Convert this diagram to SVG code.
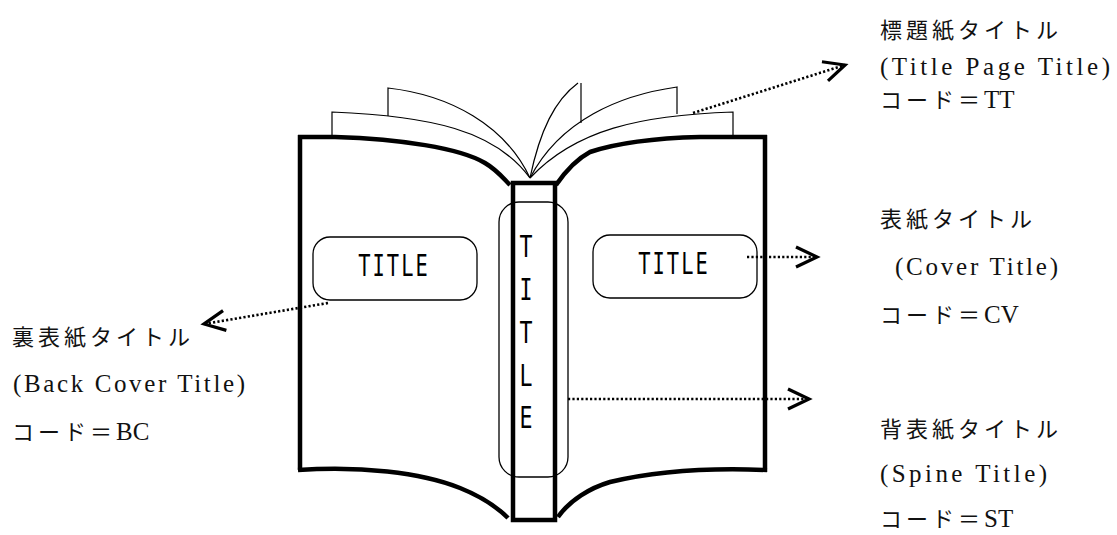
<svg xmlns="http://www.w3.org/2000/svg" width="1117" height="535" viewBox="0 0 1117 535">
<style>
.cover{fill:none;stroke:#000;stroke-width:4.5;stroke-linecap:butt;stroke-linejoin:miter}
.page{fill:none;stroke:#000;stroke-width:1.2}
.box{fill:none;stroke:#000;stroke-width:1.3}
.big{font-family:"DejaVu Sans Mono",monospace;font-size:30px;fill:#000;text-anchor:middle}
.hz{letter-spacing:3px}
.jp{font-family:"Noto Sans CJK JP",sans-serif;font-size:22px;letter-spacing:4px;fill:#111}
.en{font-family:"Liberation Serif","Noto Sans CJK JP",serif;font-size:25px;letter-spacing:0;fill:#111}
.dot{fill:none;stroke:#000;stroke-width:2.6;stroke-dasharray:2.2 2.2}
</style>
<defs>
<marker id="arr" markerUnits="userSpaceOnUse" viewBox="-26 -14 30 28" refX="0" refY="0" markerWidth="30" markerHeight="28" orient="auto" overflow="visible">
<path d="M-21,-10 L0,0 L-21,10" fill="none" stroke="#000" stroke-width="3.2" stroke-dasharray="none"/>
</marker>
</defs>
<rect width="1117" height="535" fill="#fff"/>
<g id="book">
<g id="pages">
<path class="page" d="M332,137 L332,112 C430,116 495,130 530,178"/>
<path class="page" d="M388,116 L388,88 C450,95 505,125 530,178"/>
<path class="page" d="M530,178 C540,130 555,100 578,83"/>
<path class="page" d="M581,83 L581,123"/>
<path class="page" d="M677,114 L677,87 C620,95 560,120 530,178"/>
<path class="page" d="M733,137 L733,112 C640,115 575,130 530,178"/>
</g>
<g id="left-cover">
<path class="cover" d="M300,470 L300,135 M298,137 L335,137 C400,139 460,148 485,163 C497,170 503,178 510,185"/>
<path class="cover" d="M298,470 C360,466 420,472 460,488 C485,498 500,510 508,518"/>
</g>
<g id="right-cover">
<path class="cover" d="M556,185 C565,172 575,160 590,152 C620,142 660,138 700,137 L767,137 M765,135 L765,472"/>
<path class="cover" d="M558,517 C570,500 590,488 610,482 C660,470 720,468 767,470"/>
</g>
<g id="spine">
<rect class="cover" x="513" y="183" width="42" height="337" stroke-width="4"/>
</g>
</g>
<g id="back-cover-title">
<rect class="box" x="313" y="237" width="164" height="63" rx="17"/>
<g transform="translate(394,276) scale(0.68,1)"><text class="big hz" x="0" y="0">TITLE</text></g>
</g>
<g id="cover-title">
<rect class="box" x="593" y="235" width="164" height="63" rx="17"/>
<g transform="translate(674,274) scale(0.68,1)"><text class="big hz" x="0" y="0">TITLE</text></g>
</g>
<g id="spine-title">
<rect class="box" x="499" y="202" width="69" height="275" rx="20"/>
<g transform="translate(526,0) scale(0.72,1)">
<text class="big" x="0" y="257">T</text>
<text class="big" x="0" y="300">I</text>
<text class="big" x="0" y="343">T</text>
<text class="big" x="0" y="386">L</text>
<text class="big" x="0" y="428">E</text>
</g>
</g>
<g id="connectors">
<path class="dot" d="M693,113 L845,65" marker-end="url(#arr)"/>
<path class="dot" d="M747,257 L817,257" marker-end="url(#arr)"/>
<path class="dot" d="M568,399 L809,399" marker-end="url(#arr)"/>
<path class="dot" d="M328,303 L204,324" marker-end="url(#arr)"/>
</g>
<g id="label-tt">
<text class="jp" x="880" y="38">標題紙タイトル</text>
<text class="en" x="880" y="75" textLength="230">(Title Page Title)</text>
<text class="jp" x="880" y="108">コード＝<tspan class="en">TT</tspan></text>
</g>
<g id="label-cv">
<text class="jp" x="880" y="227">表紙タイトル</text>
<text class="en" x="895" y="275" textLength="163">(Cover Title)</text>
<text class="jp" x="880" y="323">コード＝<tspan class="en">CV</tspan></text>
</g>
<g id="label-st">
<text class="jp" x="880" y="437">背表紙タイトル</text>
<text class="en" x="880" y="482" textLength="167">(Spine Title)</text>
<text class="jp" x="880" y="527">コード＝<tspan class="en">ST</tspan></text>
</g>
<g id="label-bc">
<text class="jp" x="12" y="345">裏表紙タイトル</text>
<text class="en" x="13" y="392" textLength="232">(Back Cover Title)</text>
<text class="jp" x="12" y="440">コード＝<tspan class="en">BC</tspan></text>
</g>
</svg>
